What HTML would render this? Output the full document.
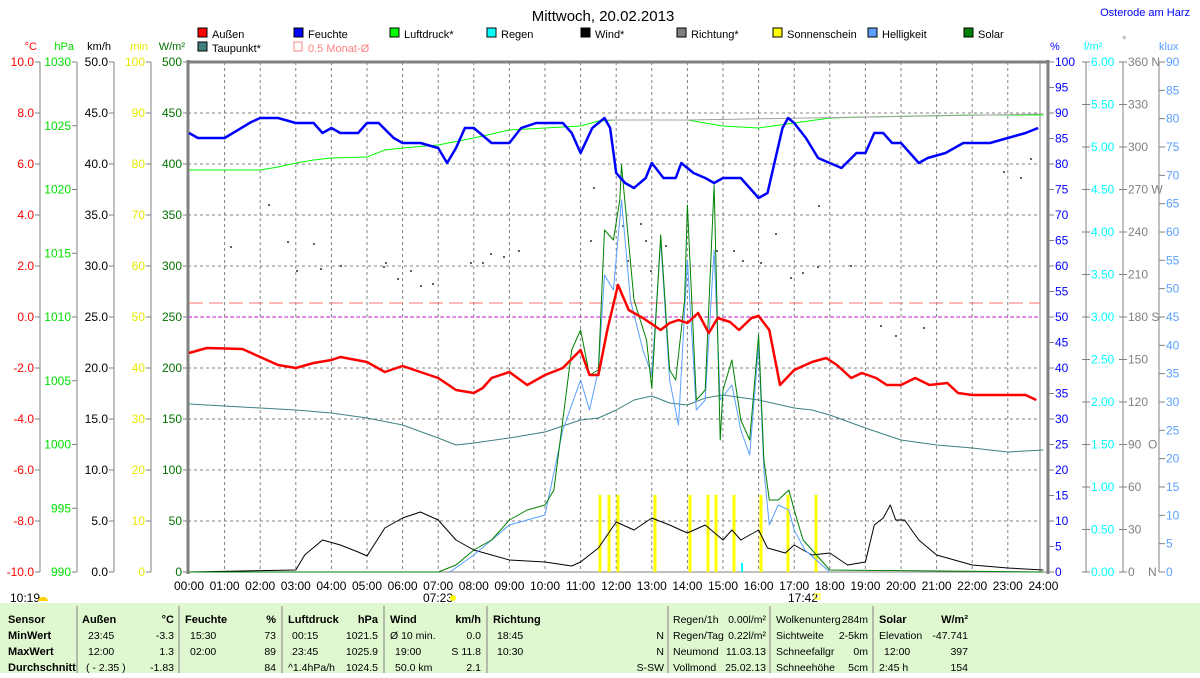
<!DOCTYPE html>
<html><head><meta charset="utf-8"><style>
body{margin:0;background:#fff;width:1200px;height:673px;overflow:hidden;font-family:"Liberation Sans",sans-serif}
svg text{font-family:"Liberation Sans",sans-serif;font-size:11px}
</style></head><body>
<svg id="s" width="1200" height="673" xmlns="http://www.w3.org/2000/svg"></svg>
<script>
const s=document.getElementById('s');let o='';
const X=h=>189+35.6*h;
const T=(x,y,t,c,a,sz,w)=>{o+=`<text x="${x}" y="${y}" fill="${c}" text-anchor="${a||'start'}"${sz?` style="font-size:${sz}px${w?';font-weight:bold':''}"`:''}>${t}</text>`};
const L=(x1,y1,x2,y2,c,w,d)=>{o+=`<line x1="${x1}" y1="${y1}" x2="${x2}" y2="${y2}" stroke="${c}" stroke-width="${w||1}"${d?` stroke-dasharray="${d}"`:''}/>`};
o+=`<rect x="0" y="603" width="1200" height="70" fill="#e0f8d0"/>`;
for(let h=1;h<24;h++)L(X(h),62,X(h),572,'#808080',1,'3,3');
for(let i=1;i<10;i++)L(188,62+51*i,1040,62+51*i,'#808080',1,'3,3');
L(188,62,1048,62,'#808080',3);
L(188,60,188,574,'#808080',3);L(1048,60,1048,574,'#808080',3);L(1040,62,1040,572,'#808080',1);
L(188,572,1048,572,'#808080',1);
L(189,303,1040,303,'#ff7070',1,'14,6');
L(189,317,1040,317,'#e000e0',1,'3,3');
const ax=[[40,'#ff0000','°C',i=>(10-2*i).toFixed(1),10,51],[77,'#00e000','hPa',i=>1030-5*i,8,63.75],[114,'#000','km/h',i=>(50-5*i).toFixed(1),10,51],[151,'#e8e800','min',i=>100-10*i,10,51],[188,'#007000','W/m²',i=>500-50*i,10,51]];
for(const [x,c,u,f,n,st] of ax){if(x<188)L(x,62,x,572,'#808080');T(x-3,50,u,c,'end');for(let i=0;i<=n;i++){const y=62+st*i;L(x-5,y,x,y,'#808080');T(x-6,y+4,f(i),c,'end',12)}}
const dir=['360 N','330','300','270 W','240','210','180 S','150','120','90 &#160;O','60','30','0 &#160;&#160;&#160;N'];
L(1086,62,1086,572,'#808080');L(1123,62,1123,572,'#808080');L(1159,62,1159,572,'#808080');
T(1050,50,'%','#0000ff');T(1084,50,'l/m²','#00ffff');T(1122,44,'°','#808080');T(1159,50,'klux','#5aa0ff');
for(let i=0;i<=20;i++){const y=62+25.5*i;L(1048,y,1054,y,'#808080');T(1055,y+4,100-5*i,'#0000ff',0,12)}
for(let i=0;i<=18;i++){const y=62+28.333*i;L(1159,y,1165,y,'#808080');T(1166,y+4,90-5*i,'#5aa0ff',0,12)}
for(let i=0;i<=12;i++){const y=62+42.5*i;L(1082,y,1090,y,'#808080');T(1091,y+4,(6-0.5*i).toFixed(2),'#00ffff',0,12);L(1119,y,1127,y,'#808080');T(1128,y+4,dir[i],'#808080',0,12)}
for(let h=0;h<=24;h++)T(X(h),590,(h<10?'0':'')+h+':00','#000','middle',12);
T(438,602,'07:23','#000','middle',12);o+=`<circle cx="453" cy="598" r="3" fill="#ffff00"/>`;
T(803,602,'17:42','#000','middle',12);o+=`<rect x="815" y="594" width="5" height="5" fill="none" stroke="#ffff00"/>`;
T(10,602,'10:19','#000',0,12);o+=`<path d="M38 601 a5 4 0 0 1 10 0z" fill="#ffd000"/>`;
T(603,21,'Mittwoch, 20.02.2013','#000','middle',15);
T(1190,16,'Osterode am Harz','#0000ff','end',11);
const lg=[[198,38,'#ff0000','Außen'],[294,38,'#0000ff','Feuchte'],[390,38,'#00ff00','Luftdruck*'],[487,38,'#00ffff','Regen'],[581,38,'#000','Wind*'],[677,38,'#808080','Richtung*'],[773,38,'#ffff00','Sonnenschein'],[868,38,'#5aa0ff','Helligkeit'],[964,38,'#008000','Solar'],[198,52,'#408080','Taupunkt*']];
for(const [x,y,c,t] of lg){o+=`<rect x="${x}" y="${y-10}" width="9" height="9" fill="${c}" stroke="#000"/>`;T(x+14,y,t,'#000')}
o+=`<rect x="294" y="42" width="8" height="9" fill="none" stroke="#ff8080"/>`;T(308,52,'0.5 Monat-Ø','#ff8080');
const dots=[[268,204],[230,246],[287,241],[313,243],[296,270],[320,268],[340,265],[383,266],[385,262],[410,270],[397,278],[420,285],[432,283],[490,253],[470,262],[482,262],[503,256],[518,250],[590,240],[593,187],[622,225],[627,260],[640,223],[645,240],[665,245],[650,270],[686,265],[716,250],[733,250],[742,260],[760,262],[775,233],[790,277],[802,272],[817,266],[818,205],[850,265],[880,325],[895,335],[923,327],[1003,171],[1020,177],[1030,158]];
for(const [x,y] of dots)o+=`<rect x="${x}" y="${y}" width="2" height="2" fill="#606060"/>`;
for(const x of [600,609,618,655,690,708,716,734,761,788,816])L(x,495,x,572,'#ffff00',3);
L(742,563,742,572,'#00ffff',2);
const P=(d,c,w)=>{let p=d.map(([h,y],i)=>(i?'L':'M')+X(h).toFixed(1)+' '+y).join('');o+=`<path d="${p}" fill="none" stroke="${c}" stroke-width="${w}" stroke-linejoin="round"/>`};
P([[0,170],[2,170],[2.5,167],[3,163],[3.5,160],[4,158],[5,157],[5.5,150],[6,148],[7,145],[8,138],[9,130],[10,128],[11,126],[11.5,121],[12,120],[14,120],[15,126],[16,128],[17,123],[18,118],[19,117],[22,115],[24,115]],'#00ff00',1);
L(X(11.6),120,X(14),120,'#a0a0a0',1);L(X(14),120,X(24),114,'#a0a0a0',1);
P([[0,404],[2,408],[3,410],[4,413],[5,418],[6,425],[7,438],[7.5,445],[8,443],[9,438],[10,432],[11,420],[11.5,418],[12,410],[12.5,400],[13,396],[13.5,403],[14,405],[14.5,398],[15,395],[16,400],[17,408],[17.5,410],[18,415],[19,428],[20,440],[21,445],[22,448],[23,452],[24,450]],'#408080',1);
P([[0,572],[3,570],[3.25,555],[3.75,540],[4.25,545],[4.75,552],[5,556],[5.5,528],[6,518],[6.5,512],[7,520],[7.5,540],[8,550],[9,560],[10,562],[10.75,566],[11,562],[11.5,548],[12,522],[12.5,530],[13,518],[13.5,525],[14,533],[14.5,525],[15,540],[15.25,530],[15.5,540],[16,530],[16.25,548],[16.75,553],[17,545],[17.5,555],[18,553],[18.5,565],[19,562],[19.25,525],[19.5,518],[19.7,505],[19.85,520],[20.1,520],[20.5,540],[21,555],[21.5,560],[22,565],[23,568],[24,570]],'#000',1);
P([[7.33,572],[8,555],[9,525],[10,515],[10.5,430],[11,380],[11.25,410],[11.5,370],[11.67,275],[11.92,290],[12.15,200],[12.4,300],[12.75,350],[13,375],[13.25,240],[13.5,380],[13.75,425],[14,260],[14.25,410],[14.5,400],[14.75,250],[14.92,400],[15.25,385],[15.5,430],[15.75,455],[16,345],[16.15,470],[16.3,525],[16.55,505],[16.85,510],[17,530],[17.3,550],[18,572]],'#5aa0ff',1);
P([[0,572],[7,572],[7.5,565],[8,550],[8.5,540],[9,520],[9.5,510],[10,505],[10.25,490],[10.5,420],[10.75,350],[11,330],[11.25,375],[11.5,370],[11.67,230],[11.92,240],[12.1,200],[12.15,165],[12.5,300],[12.85,340],[13,388],[13.25,235],[13.5,370],[13.67,380],[13.92,300],[14,205],[14.25,400],[14.5,390],[14.75,185],[14.92,440],[15,390],[15.25,360],[15.5,420],[15.75,440],[16,335],[16.15,460],[16.3,500],[16.55,500],[16.85,490],[17,510],[17.25,540],[17.5,550],[18,570],[24,572]],'#008000',1);
P([[0,353],[0.5,348],[1.5,349],[2,357],[2.5,365],[3,368],[3.5,363],[4,360],[4.25,357],[5,362],[5.5,372],[6,366],[7,378],[7.5,390],[8,393],[8.25,388],[8.5,378],[9,372],[9.5,385],[10,375],[10.5,368],[11,350],[11.25,375],[11.5,375],[11.75,330],[12.05,285],[12.35,310],[12.75,318],[13.25,330],[13.5,323],[13.75,320],[14,323],[14.3,313],[14.6,333],[14.85,318],[15.2,322],[15.45,330],[15.8,318],[16,316],[16.3,330],[16.6,385],[17,370],[17.5,362],[17.9,358],[18.2,365],[18.6,378],[18.9,373],[19.3,378],[19.6,385],[20,385],[20.4,378],[20.8,385],[21.3,383],[21.6,393],[22,395],[23.5,395],[23.8,400]],'#ff0000',2.5);
P([[0,133],[0.25,138],[1,138],[1.75,122],[2,118],[2.5,118],[3,123],[3.5,123],[3.75,133],[4,128],[4.25,133],[4.75,133],[5,123],[5.33,123],[5.75,138],[6,143],[6.5,143],[7,148],[7.25,163],[7.5,148],[7.75,128],[8,128],[8.5,143],[9,143],[9.33,128],[9.75,123],[10.5,123],[10.75,133],[11,153],[11.33,128],[11.67,118],[11.83,128],[12,173],[12.25,183],[12.5,188],[12.83,178],[13,163],[13.33,178],[13.67,178],[13.83,163],[14.17,173],[14.5,178],[14.75,183],[15,178],[15.5,178],[15.75,188],[16,198],[16.25,193],[16.67,128],[16.83,118],[17,123],[17.33,138],[17.67,158],[18,163],[18.33,168],[18.75,153],[19,153],[19.25,133],[19.5,133],[19.75,143],[20,143],[20.5,163],[20.75,158],[21.25,153],[21.75,143],[22.5,143],[23,138],[23.5,133],[23.85,128]],'#0000ff',2.5);
for(const x of [77,179,282,384,487,668,770,873])L(x,606,x,673,'#808080',1);
const rows=[619,635,651,667];const B='#000';
const tl=(x,r,t,a,b)=>T(x,rows[r]+4,t,B,a||'start',b?11:10.5,b);
tl(8,0,'Sensor',0,1);tl(8,1,'MinWert',0,1);tl(8,2,'MaxWert',0,1);tl(8,3,'Durchschnitt',0,1);
tl(82,0,'Außen',0,1);tl(174,0,'°C','end',1);tl(88,1,'23:45');tl(174,1,'-3.3','end');tl(88,2,'12:00');tl(174,2,'1.3','end');tl(86,3,'( - 2.35 )');tl(174,3,'-1.83','end');
tl(185,0,'Feuchte',0,1);tl(276,0,'%','end',1);tl(190,1,'15:30');tl(276,1,'73','end');tl(190,2,'02:00');tl(276,2,'89','end');tl(276,3,'84','end');
tl(288,0,'Luftdruck',0,1);tl(378,0,'hPa','end',1);tl(292,1,'00:15');tl(378,1,'1021.5','end');tl(292,2,'23:45');tl(378,2,'1025.9','end');tl(288,3,'^1.4hPa/h');tl(378,3,'1024.5','end');
tl(390,0,'Wind',0,1);tl(481,0,'km/h','end',1);tl(390,1,'Ø 10 min.');tl(481,1,'0.0','end');tl(395,2,'19:00');tl(481,2,'S 11.8','end');tl(395,3,'50.0 km');tl(481,3,'2.1','end');
tl(493,0,'Richtung',0,1);tl(497,1,'18:45');tl(664,1,'N','end');tl(497,2,'10:30');tl(664,2,'N','end');tl(664,3,'S-SW','end');
tl(673,0,'Regen/1h');tl(766,0,'0.00l/m²','end');tl(673,1,'Regen/Tag');tl(766,1,'0.22l/m²','end');tl(673,2,'Neumond');tl(766,2,'11.03.13','end');tl(673,3,'Vollmond');tl(766,3,'25.02.13','end');
tl(776,0,'Wolkenunterg');tl(868,0,'284m','end');tl(776,1,'Sichtweite');tl(868,1,'2-5km','end');tl(776,2,'Schneefallgr');tl(868,2,'0m','end');tl(776,3,'Schneehöhe');tl(868,3,'5cm','end');
tl(879,0,'Solar',0,1);tl(968,0,'W/m²','end',1);tl(879,1,'Elevation');tl(968,1,'-47.741','end');tl(884,2,'12:00');tl(968,2,'397','end');tl(879,3,'2:45 h');tl(968,3,'154','end');
s.innerHTML=o;
</script>
</body></html>
